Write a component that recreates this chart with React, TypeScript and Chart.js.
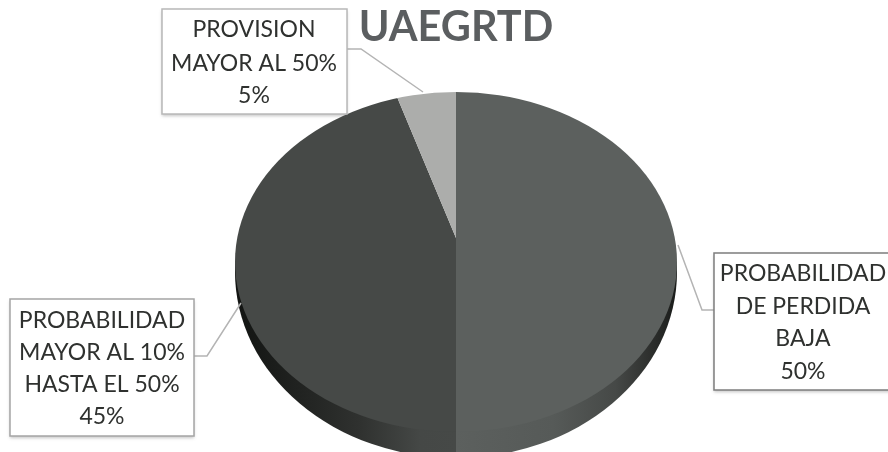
import React, { useEffect, useRef } from "react";
import { Chart, registerables } from "chart.js";

Chart.register(...registerables);

const titleText = "UAEGRTD";
const categories = [
  "PROBABILIDAD DE PERDIDA BAJA",
  "PROBABILIDAD MAYOR AL 10% HASTA EL 50%",
  "PROVISION MAYOR AL 50%",
];
const values = [50, 45, 5];
const sliceColors = ["#5c605e", "#464947", "#acadab"];
const categoryLines = [
  ["PROBABILIDAD", "DE PERDIDA", "BAJA"],
  ["PROBABILIDAD", "MAYOR AL 10%", "HASTA EL 50%"],
  ["PROVISION", "MAYOR AL 50%"],
];

const FONT = "Lato, 'Open Sans', sans-serif";

const pieTop = { cx: 456, cy: 262, rx: 221, ry: 170, apexY: 238, squash: 0.777 };
const pieBase = { cy: 272, ry: 186 };

const callouts = [
  {
    box: { x: 714, y: 253, w: 190, h: 137 }, cx: 803, lineY: [274, 307, 339, 372],
    border: "#7d7d7d", leader: [[678, 245], [702, 310], [714, 310]],
  },
  {
    box: { x: 10, y: 299, w: 184, h: 137 }, cx: 102, lineY: [321, 353, 385, 417],
    border: "#a5a5a5", leader: [[241, 303], [207, 356], [194, 356]],
  },
  {
    box: { x: 162, y: 9, w: 185, h: 105 }, cx: 254, lineY: [30, 64, 96],
    border: "#b8b8b8", leader: [[423, 92], [361, 49], [347, 49]],
  },
];

const squashedPie = {
  id: "squashedPie",
  beforeDatasetsDraw(chart: any) {
    const ctx = chart.ctx;
    ctx.save();
    ctx.beginPath();
    ctx.rect(0, pieTop.cy, chart.width, chart.height - pieTop.cy);
    ctx.clip();
    const g = ctx.createLinearGradient(pieTop.cx - pieTop.rx, 0, pieTop.cx + pieTop.rx, 0);
    g.addColorStop(0, "#121412");
    g.addColorStop(0.14, "#202220");
    g.addColorStop(0.28, "#2f312f");
    g.addColorStop(0.42, "#454846");
    g.addColorStop(0.5, "#464947");
    g.addColorStop(0.501, "#5c605e");
    g.addColorStop(0.72, "#565a58");
    g.addColorStop(0.86, "#464947");
    g.addColorStop(0.95, "#2a2c2a");
    g.addColorStop(1, "#1a1c1a");
    ctx.fillStyle = g;
    ctx.beginPath();
    ctx.ellipse(pieTop.cx, pieBase.cy, pieTop.rx, pieBase.ry, 0, 0, Math.PI * 2);
    ctx.fill();
    ctx.restore();
  },
  beforeDatasetDraw(chart: any) {
    const ctx = chart.ctx;
    const arc = chart.getDatasetMeta(0).data[0];
    ctx.save();
    ctx.beginPath();
    ctx.ellipse(pieTop.cx, pieTop.cy, pieTop.rx, pieTop.ry, 0, 0, Math.PI * 2);
    ctx.clip();
    ctx.translate(0, pieTop.apexY);
    ctx.scale(1, pieTop.squash);
    ctx.translate(0, -arc.y);
  },
  afterDatasetDraw(chart: any) {
    chart.ctx.restore();
  },
  afterDatasetsDraw(chart: any) {
    const ctx = chart.ctx;
    callouts.forEach((c, i) => {
      ctx.save();
      ctx.strokeStyle = "#b4b4b4";
      ctx.lineWidth = 1.5;
      ctx.beginPath();
      c.leader.forEach(([x, y], k) => (k ? ctx.lineTo(x, y) : ctx.moveTo(x, y)));
      ctx.stroke();
      ctx.shadowColor = "rgba(90,90,90,0.35)";
      ctx.shadowBlur = 3;
      ctx.shadowOffsetY = 2;
      ctx.fillStyle = "#ffffff";
      ctx.fillRect(c.box.x, c.box.y, c.box.w, c.box.h);
      ctx.shadowColor = "transparent";
      ctx.strokeStyle = c.border;
      ctx.lineWidth = 1.5;
      ctx.strokeRect(c.box.x, c.box.y, c.box.w, c.box.h);
      ctx.fillStyle = "#2f312f";
      ctx.font = `23px ${FONT}`;
      ctx.textAlign = "center";
      ctx.textBaseline = "middle";
      const lines = [...categoryLines[i], `${values[i]}%`];
      lines.forEach((t, k) => ctx.fillText(t, c.cx, c.lineY[k]));
      ctx.restore();
    });
  },
};

export default function App() {
  const ref = useRef<HTMLCanvasElement | null>(null);
  useEffect(() => {
    const chart = new Chart(ref.current as HTMLCanvasElement, {
      type: "pie",
      data: {
        labels: categories,
        datasets: [
          {
            data: values,
            backgroundColor: sliceColors,
            borderWidth: 0,
            radius: 300,
            clip: false,
          } as any,
        ],
      },
      options: {
        responsive: false,
        animation: false,
        layout: { padding: { left: 24 } },
        plugins: {
          legend: { display: false },
          tooltip: { enabled: false },
          title: {
            display: true,
            text: titleText,
            color: "#5b5e60",
            fullSize: false,
            font: { family: FONT, size: 41.5, weight: "bold" },
            padding: { top: 3, bottom: 0 },
          },
        },
      } as any,
      plugins: [squashedPie],
    });
    return () => chart.destroy();
  }, []);
  return (
    <div style={{ position: "absolute", left: 0, top: 0, width: 888, height: 452, overflow: "hidden", background: "#fff" }}>
      <canvas ref={ref} width={888} height={452} style={{ display: "block" }} />
    </div>
  );
}
